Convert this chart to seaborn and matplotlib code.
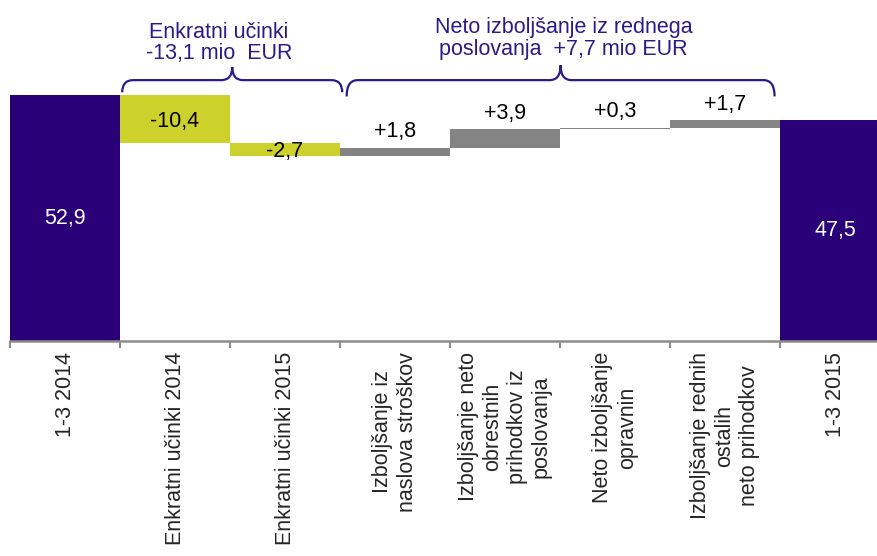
import matplotlib

matplotlib.use("Agg", force=True)
import numpy as np  # noqa: E402
import pandas as pd  # noqa: E402
import seaborn as sns  # noqa: E402
from matplotlib import pyplot as plt  # noqa: E402
from matplotlib.patches import PathPatch  # noqa: E402
from matplotlib.path import Path  # noqa: E402

CATEGORIES = [
    "1-3 2014",
    "Enkratni učinki 2014",
    "Enkratni učinki 2015",
    "Izboljšanje iz\nnaslova stroškov",
    "Izboljšanje neto\nobrestnih\nprihodkov iz\nposlovanja",
    "Neto izboljšanje\nopravnin",
    "Izboljšanje rednih\nostalih\nneto prihodkov",
    "1-3 2015",
]
KINDS = ["total", "one_off", "one_off", "operating", "operating", "operating", "operating", "total"]
START_VALUE = 52.9
DELTAS = [-10.4, -2.7, 1.8, 3.9, 0.3, 1.7]
END_VALUE = 47.5

BRACE_TEXTS = [
    "Enkratni učinki\n-13,1 mio  EUR",
    "Neto izboljšanje iz rednega\nposlovanja  +7,7 mio EUR",
]

KIND_ORDER = ["total", "one_off", "operating"]
KIND_PALETTE = {"total": "#2A0079", "one_off": "#CCD12B", "operating": "#848484"}
ACCENT = "#2E1A87"
AXIS_GREY = "#8C8C8C"


def build_frame() -> pd.DataFrame:
    values = [START_VALUE] + DELTAS + [END_VALUE]
    bottoms, heights = [0.0], [START_VALUE]
    running = START_VALUE
    for delta in DELTAS:
        bottoms.append(min(running, running + delta))
        heights.append(abs(delta))
        running += delta
    bottoms.append(0.0)
    heights.append(END_VALUE)
    return pd.DataFrame(
        {"label": CATEGORIES, "kind": KINDS, "value": values, "bottom": bottoms, "height": heights}
    )


def draw_brace(ax, x0, x1, y_end, y_mid, y_tip, r=0.1):
    xm = (x0 + x1) / 2
    verts = [
        (x0, y_end), (x0, y_mid), (x0 + r, y_mid),
        (xm - r, y_mid),
        (xm, y_mid), (xm, y_tip),
        (xm, y_mid), (xm + r, y_mid),
        (x1 - r, y_mid),
        (x1, y_mid), (x1, y_end),
    ]
    codes = [
        Path.MOVETO, Path.CURVE3, Path.CURVE3,
        Path.LINETO,
        Path.CURVE3, Path.CURVE3,
        Path.CURVE3, Path.CURVE3,
        Path.LINETO,
        Path.CURVE3, Path.CURVE3,
    ]
    ax.add_patch(PathPatch(Path(verts, codes), facecolor="none", edgecolor=ACCENT, lw=1.6))


def fmt(value: float, signed: bool) -> str:
    text = f"{value:+.1f}" if signed else f"{value:.1f}"
    return text.replace(".", ",")


sns.set_theme(style="white")
plt.rcParams["font.family"] = ["Liberation Sans", "DejaVu Sans"]

frame = build_frame()

fig = plt.figure(figsize=(8.78, 5.56), dpi=100)
ax = fig.add_axes([10 / 878, 215 / 556, 868 / 878, 325.5 / 556])

sns.barplot(
    data=frame,
    x="label",
    y="height",
    hue="kind",
    order=CATEGORIES,
    hue_order=KIND_ORDER,
    palette=KIND_PALETTE,
    dodge=False,
    width=1.0,
    saturation=1,
    linewidth=0,
    legend=False,
    errorbar=None,
    ax=ax,
)
# floating bars: move each bar to its running base
for patch in ax.patches:
    idx = int(round(patch.get_x() + patch.get_width() / 2))
    patch.set_y(frame.loc[idx, "bottom"])

for idx, row in frame.iterrows():
    if row["kind"] == "total":
        ax.text(idx, row["height"] / 2, fmt(row["value"], False), ha="center", va="center",
                color="white", fontsize=15.5)
    elif row["value"] < 0:
        ax.text(idx, row["bottom"] + row["height"] / 2 - 0.4, fmt(row["value"], True),
                ha="center", va="center", color="black", fontsize=15.5)
    else:
        ax.annotate(fmt(row["value"], True), (idx, row["bottom"] + row["height"]),
                    xytext=(0, 4), textcoords="offset points", ha="center", va="bottom",
                    color="black", fontsize=15.5)

draw_brace(ax, 0.52, 2.52, 53.5, 56.1, 58.9, r=0.1)
draw_brace(ax, 2.56, 6.45, 52.6, 56.1, 59.3, r=0.1)
ax.text(1.40, 64.1, BRACE_TEXTS[0], ha="center", va="center", color=ACCENT,
        fontsize=15.5, linespacing=1.05)
ax.text(4.53, 65.0, BRACE_TEXTS[1], ha="center", va="center", color=ACCENT,
        fontsize=15.5, linespacing=1.05)

ax.set_xlim(-0.5, 7.39)
ax.set_ylim(0, 70)
ax.set_yticks([])
ax.set_xlabel("")
ax.set_ylabel("")
ax.set_xticks(range(len(CATEGORIES)))
ax.set_xticklabels(CATEGORIES, rotation=90, ha="center", va="top", multialignment="center",
                   fontsize=15.5)
ax.set_xticks(np.arange(-0.5, len(CATEGORIES) - 0.5), minor=True)
ax.tick_params(axis="x", which="major", length=0, pad=8)
ax.tick_params(axis="x", which="minor", length=5, width=1.5, color=AXIS_GREY, bottom=True)
for side in ("left", "top", "right"):
    ax.spines[side].set_visible(False)
ax.spines["bottom"].set_color(AXIS_GREY)
ax.spines["bottom"].set_linewidth(1.8)

fig.savefig("out.png", dpi=100)
